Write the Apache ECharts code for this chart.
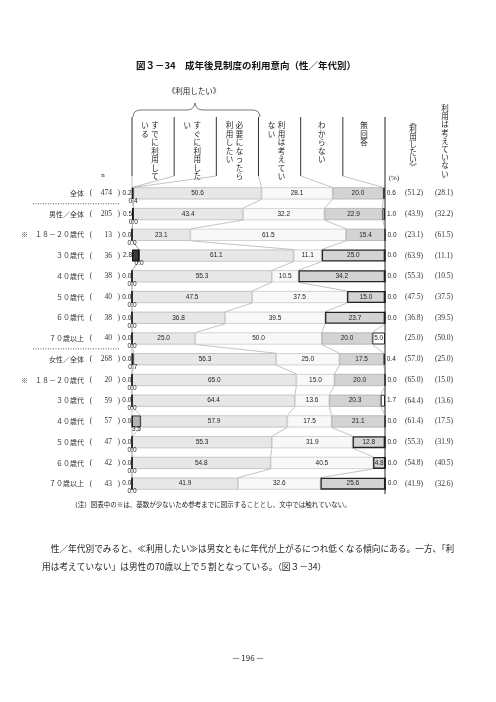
<!DOCTYPE html>
<html><head><meta charset="utf-8">
<script src="https://cdn.jsdelivr.net/npm/echarts@6/dist/echarts.min.js"></script>
<style>html,body{margin:0;padding:0;background:#fff}#c{width:496px;height:702px}</style>
</head><body><div id="c"></div>
<script>
// ---------- data ----------
const categories = ['全体','男性／全体','※　１８－２０歳代','３０歳代','４０歳代','５０歳代','６０歳代','７０歳以上','女性／全体','※　１８－２０歳代','３０歳代','４０歳代','５０歳代','６０歳代','７０歳以上'];
const ns = [474,205,13,36,38,40,38,40,268,20,59,57,47,42,43];
const seriesNames = ['すでに利用している','すぐに利用したい','必要になったら利用したい','利用は考えていない','わからない','無回答'];
const already        = [0.2,0.5,0.0,2.8,0.0,0.0,0.0,0.0,0.0,0.0,0.0,0.0,0.0,0.0,0.0];
const soon           = [0.4,0.0,0.0,0.0,0.0,0.0,0.0,0.0,0.7,0.0,0.0,3.5,0.0,0.0,0.0];
const ifNeeded       = [50.6,43.4,23.1,61.1,55.3,47.5,36.8,25.0,56.3,65.0,64.4,57.9,55.3,54.8,41.9];
const notConsidering = [28.1,32.2,61.5,11.1,10.5,37.5,39.5,50.0,25.0,15.0,13.6,17.5,31.9,40.5,32.6];
const dontKnow       = [20.0,22.9,15.4,25.0,34.2,15.0,23.7,20.0,17.5,20.0,20.3,21.1,12.8,4.8,25.6];
const noAnswer       = [0.6,1.0,0.0,0.0,0.0,0.0,0.0,5.0,0.4,0.0,1.7,0.0,0.0,0.0,0.0];
const wantTotal      = [51.2,43.9,23.1,63.9,55.3,47.5,36.8,25.0,57.0,65.0,64.4,61.4,55.3,54.8,41.9];
const notTotal       = [28.1,32.2,61.5,11.1,10.5,37.5,39.5,50.0,25.0,15.0,13.6,17.5,31.9,40.5,32.6];
const columnHeaders = [['すでに利用して','いる'],['すぐに利用した','い'],['必要になったら','利用したい'],['利用は考えてい','ない'],['わからない'],['無回答']];
const groupBreaks = [0, 7];
const titleText = '図３－34　成年後見制度の利用意向（性／年代別）';
const noteText = '（注）図表中の※は、基数が少ないため参考までに図示することとし、文中では触れていない。';
const paraLines = ['　性／年代別でみると、≪利用したい≫は男女ともに年代が上がるにつれ低くなる傾向にある。一方、「利','用は考えていない」は男性の70歳以上で５割となっている。（図３－34）'];
const pageText = '— 196 —';

// ---------- style ----------
const JP = "'Noto Sans CJK JP', sans-serif";
const NUM = "'Liberation Sans', Arial, sans-serif";
const SERIF = "'Liberation Serif', 'DejaVu Serif', serif";
const BAR_W = 12, HALF = 6;
const outlinedDontKnow = [3,4,5,6,12,13,14];
const fills = ['#3a3a3a','#b4b4b4','#e7e7e7','#f8f8f8','#d3d3d3','#ffffff'];
const borders = ['#111','#333','#a8a8a8','#b8b8b8','#9a9a9a','#222'];
const bw = [1.2,1,0.6,0.6,0.6,1];
const values = [already, soon, ifNeeded, notConsidering, dontKnow, noAnswer];
const fmt = v => Number(v).toFixed(1);
const cumAt = (row) => { let s = 0; return values.slice(0,5).map(a => (s += a[row])); };

const series = values.map((arr, si) => {
  const s = {
    name: seriesNames[si], type: 'bar', stack: 'all', barWidth: BAR_W, clip: false,
    itemStyle: { color: fills[si], borderColor: borders[si], borderWidth: bw[si] },
    label: { show: true, fontFamily: NUM, fontSize: 6.5, color: '#222', formatter: p => fmt(p.value) },
    data: arr.slice(), z: 3
  };
  if (si === 0) { s.label.position = 'left'; s.label.distance = 0; s.z = 5; }
  else if (si === 1) { s.label.position = 'bottom'; s.label.distance = -2; s.z = 4; }
  else if (si === 5) {
    s.data = arr.map(v => ({ value: v, label: { position: v >= 3 ? 'inside' : 'right', distance: 2 } }));
  } else { s.label.position = 'inside'; }
  if (si === 4) {
    s.data = arr.map((v, i) => outlinedDontKnow.includes(i) ? { value: v, itemStyle: { borderColor: '#222', borderWidth: 1.3 } } : v);
  }
  return s;
});

series.push({
  type: 'custom', silent: true, z: 1,
  data: categories.slice(0, -1).map((_, i) => [0, i]),
  encode: { x: 0, y: 1 },
  renderItem: (params, api) => {
    const i = params.dataIndex;
    const a = cumAt(i), b = cumAt(i + 1);
    const children = a.map((v, k) => {
      const p1 = api.coord([v, i]), p2 = api.coord([b[k], i + 1]);
      return { type: 'line', shape: { x1: p1[0], y1: p1[1] + HALF, x2: p2[0], y2: p2[1] - HALF }, style: { stroke: '#9a9a9a', lineWidth: 0.6 } };
    });
    return { type: 'group', children };
  }
});

const option = {
  animation: false,
  backgroundColor: '#fff',
  grid: { left: 132, right: 111, top: 183, bottom: 208 },
  xAxis: { type: 'value', min: 0, max: 100, show: false },
  yAxis: [
    { type: 'category', inverse: true, data: categories.map((_, i) => String(i)),
      axisLine: { show: false }, axisTick: { show: false },
      axisLabel: { margin: 12, formatter: (v, i) => `{nm|${categories[i]}}{lp|(}{num|${ns[i]}}{rp|)}`,
        rich: {
          nm: { fontFamily: JP, fontSize: 7, color: '#333' },
          lp: { fontFamily: SERIF, fontSize: 7.5, color: '#333', width: 10, align: 'left', padding: [0, 0, 0, 2] },
          num: { fontFamily: SERIF, fontSize: 7.5, color: '#333', width: 16, align: 'right' },
          rp: { fontFamily: SERIF, fontSize: 7.5, color: '#333', width: 8, align: 'right' }
        } } },
    { type: 'category', inverse: true, position: 'right', data: categories.map((_, i) => String(i)),
      axisLine: { show: false }, axisTick: { show: false },
      axisLabel: { margin: 20, formatter: (v, i) => `{a|(${fmt(wantTotal[i])})}{b|(${fmt(notTotal[i])})}`,
        rich: {
          a: { fontFamily: SERIF, fontSize: 7.5, color: '#333', width: 30, align: 'left' },
          b: { fontFamily: SERIF, fontSize: 7.5, color: '#333', align: 'left' }
        } } }
  ],
  series
};

const chart = echarts.init(document.getElementById('c'));
chart.setOption(option);

// ---------- header & decorations ----------
const px = (x, row) => chart.convertToPixel({ gridIndex: 0 }, [x, row]);
const HEAD_TOP = 117, HEAD_BOT = 176;
const rowY = r => px(0, r)[1];
const lastRow = categories.length - 1;
const gridBottom = rowY(lastRow) + (rowY(1) - rowY(0)) / 2;
const g = [];
const txt = (text, x, y, size, opts = {}) => g.push({ type: 'text', silent: true, style: { text, x, y, font: `${opts.bold ? 'bold ' : ''}${size}px ${opts.family || JP}`, fill: opts.fill || '#222', textAlign: opts.align || 'center', textVerticalAlign: opts.valign || 'middle', lineHeight: opts.lh } });
const line = (x1, y1, x2, y2, stroke = '#333', w = 1, dash) => g.push({ type: 'line', silent: true, shape: { x1, y1, x2, y2 }, style: { stroke, lineWidth: w, lineDash: dash } });
const curve = (x1, y1, cpx1, cpy1, x2, y2) => g.push({ type: 'bezierCurve', silent: true, shape: { x1, y1, cpx1, cpy1, x2, y2 }, style: { stroke: '#555', lineWidth: 0.8, fill: null } });
const vert = s => s.split('').join('\n');

txt(titleText, 246, 65, 9.5, { bold: true, fill: '#111' });
txt('《利用したい》', 194, 91, 7.5);
// brace
curve(133, 117, 133, 110, 141, 110);
line(141, 110, 187, 110, '#555', 0.8);
curve(187, 110, 194, 110, 195, 103);
curve(195, 103, 196, 110, 203, 110);
line(203, 110, 252, 110, '#555', 0.8);
curve(252, 110, 260, 110, 260, 117);

const nCols = columnHeaders.length;
const first = cumAt(0);
for (let k = 0; k <= nCols; k++) {
  const x = px(k * 100 / nCols, 0)[0];
  if (k < nCols) line(x, HEAD_TOP, x, HEAD_BOT, '#333', 1);
  else line(x, HEAD_TOP, x, gridBottom, '#222', 1);
  if (k < nCols) {
    const tx = k === 0 ? px(0, 0)[0] : px(first[k - 1], 0)[0];
    line(x, HEAD_BOT, tx, rowY(0) - HALF, '#9a9a9a', 0.6);
  }
}
columnHeaders.forEach((lines, k) => {
  const cx = px((k + 0.5) * 100 / nCols, 0)[0];
  if (lines.length === 1) txt(vert(lines[0]), cx, 121, 7.5, { valign: 'top', lh: 8.5 });
  else { txt(vert(lines[0]), cx + 2, 121, 7.5, { valign: 'top', lh: 8.5 }); txt(vert(lines[1]), cx - 8, 121, 7.5, { valign: 'top', lh: 8.5 }); }
});
txt(vert('︽利用したい︾'), 413, 118, 7.5, { valign: 'top', lh: 7.5 });
txt(vert('利用は考えていない'), 445, 104, 7.5, { valign: 'top', lh: 8.2 });
txt('(%)', 394, 178, 7, { family: SERIF });
txt('n', 103, 175, 7, { family: SERIF });
groupBreaks.forEach(r => { const y = (rowY(r) + rowY(r + 1)) / 2; line(33, y, 120, y, '#333', 0.8, [1, 1.5]); });
txt(noteText, 211, 505, 6.5);
txt(paraLines[0], 42, 549, 8.7, { align: 'left' });
txt(paraLines[1], 42, 567, 8.7, { align: 'left' });
txt(pageText, 248, 658, 8);
chart.setOption({ graphic: { elements: g } });
</script></body></html>
